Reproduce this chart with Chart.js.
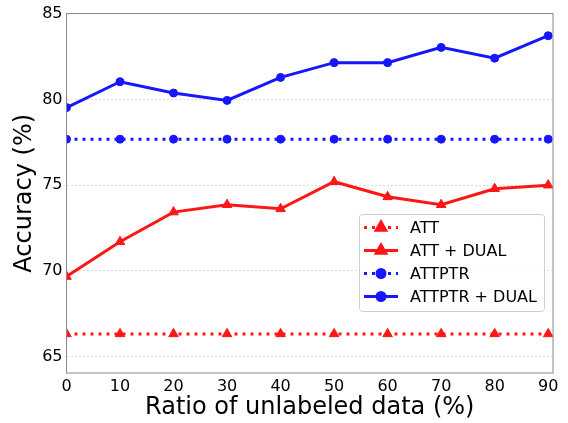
<!DOCTYPE html>
<html>
<head>
<meta charset="utf-8">
<script src="https://cdn.jsdelivr.net/npm/chart.js@4.4.1/dist/chart.umd.min.js"></script>
<style>
  html, body { margin: 0; padding: 0; background: #fff; }
  #wrap { width: 568px; height: 423px; position: relative; }
</style>
</head>
<body>
<div id="wrap"><canvas id="myChart"></canvas></div>
<script>
// valores
const ratios = [0, 10, 20, 30, 40, 50, 60, 70, 80, 90];
const att = [66.33, 66.33, 66.33, 66.33, 66.33, 66.33, 66.33, 66.33, 66.33, 66.33];
const attDual = [69.67, 71.7, 73.43, 73.86, 73.62, 75.2, 74.32, 73.86, 74.79, 75.0];
const attptr = [77.68, 77.68, 77.68, 77.68, 77.68, 77.68, 77.68, 77.68, 77.68, 77.68];
const attptrDual = [79.52, 81.03, 80.37, 79.94, 81.28, 82.14, 82.14, 83.03, 82.4, 83.71];
const xTicks = [0, 10, 20, 30, 40, 50, 60, 70, 80, 90];
const yTicks = [65, 70, 75, 80, 85];

const vermelho = "rgb(255, 22, 22)";
const azul = "rgb(22, 22, 255)";
const fonte = "'DejaVu Sans', sans-serif";

function pontos(valores) {
  return ratios.map((r, i) => ({ x: r, y: valores[i] }));
}

// caixa em volta do grafico (estilo matplotlib)
const caixa = {
  id: "caixa",
  afterDatasetsDraw(chart) {
    const a = chart.chartArea;
    const ctx = chart.ctx;
    ctx.save();
    ctx.strokeStyle = "#888";
    ctx.lineWidth = 1;
    ctx.strokeRect(a.left, a.top, a.right - a.left, a.bottom - a.top);
    ctx.restore();
  },
};

// legenda dentro do grafico
const legendaDentro = {
  id: "legendaDentro",
  afterDraw(chart) {
    const ctx = chart.ctx;
    const x0 = 359.5, y0 = 214.5, w = 185, h = 97;
    ctx.save();
    ctx.fillStyle = "rgba(255,255,255,0.85)";
    ctx.strokeStyle = "#d0d0d0";
    ctx.lineWidth = 1;
    ctx.beginPath();
    ctx.roundRect(x0, y0, w, h, 3);
    ctx.fill();
    ctx.stroke();
    chart.data.datasets.forEach((ds, i) => {
      const y = 227.5 + i * 23;
      ctx.strokeStyle = ds.borderColor;
      ctx.lineWidth = ds.borderWidth;
      ctx.setLineDash(ds.borderDash || []);
      ctx.lineCap = "butt";
      ctx.beginPath();
      ctx.moveTo(364, y);
      ctx.lineTo(398, y);
      ctx.stroke();
      ctx.setLineDash([]);
      Chart.helpers.drawPoint(ctx, {
        pointStyle: ds.pointStyle,
        radius: ds.pointRadius,
        borderWidth: 1,
        rotation: 0,
      }, 381, y);
      ctx.fillStyle = ds.pointBackgroundColor;
      ctx.strokeStyle = ds.pointBorderColor;
      ctx.lineWidth = 1;
      ctx.fill();
      ctx.stroke();
      ctx.fillStyle = "#000";
      ctx.font = "16px " + fonte;
      ctx.textBaseline = "middle";
      ctx.fillText(ds.label, 410, y + 1);
    });
    ctx.restore();
  },
};

function serie(label, valores, cor, tracejado, estilo, raio) {
  return {
    label: label,
    data: pontos(valores),
    borderColor: cor,
    backgroundColor: cor,
    pointBackgroundColor: cor,
    pointBorderColor: cor,
    pointBorderWidth: 1,
    borderWidth: 3,
    borderDash: tracejado ? [3, 5] : [],
    pointStyle: estilo,
    pointRadius: raio,
    pointHoverRadius: raio,
    tension: 0,
    fill: false,
  };
}

var ctx = document.getElementById("myChart").getContext("2d");
var chart = new Chart(ctx, {
  type: "line",
  data: {
    datasets: [
      serie("ATT", att, vermelho, true, "triangle", 5.5),
      serie("ATT + DUAL", attDual, vermelho, false, "triangle", 5.5),
      serie("ATTPTR", attptr, azul, true, "circle", 4),
      serie("ATTPTR + DUAL", attptrDual, azul, false, "circle", 4),
    ],
  },
  options: {
    responsive: true,
    maintainAspectRatio: false,
    animation: false,
    layout: { padding: { top: 12, right: 15, left: 0, bottom: 0 } },
    plugins: {
      legend: { display: false },
      tooltip: { enabled: false },
    },
    scales: {
      x: {
        type: "linear",
        min: 0,
        max: 90.9,
        afterBuildTicks(axis) {
          axis.ticks = xTicks.map((v) => ({ value: v }));
        },
        afterFit(axis) {
          axis.height = 50;
        },
        grid: { display: false, drawTicks: false },
        border: { display: false },
        ticks: {
          color: "#000",
          padding: 4,
          maxRotation: 0,
          font: { family: fonte, size: 16 },
        },
        title: {
          display: true,
          text: "Ratio of unlabeled data (%)",
          color: "#000",
          padding: { top: 0, bottom: 1 },
          font: { family: fonte, size: 24 },
        },
      },
      y: {
        type: "linear",
        min: 64.05,
        max: 85,
        afterBuildTicks(axis) {
          axis.ticks = yTicks.map((v) => ({ value: v }));
        },
        afterFit(axis) {
          axis.width = 66.5;
        },
        grid: {
          color: "#cccccc",
          lineWidth: 0.7,
          drawTicks: false,
        },
        border: { display: false, dash: [2, 2] },
        ticks: {
          color: "#000",
          padding: 4,
          font: { family: fonte, size: 16 },
        },
        title: {
          display: true,
          text: "Accuracy (%)",
          color: "#000",
          padding: { top: 10, bottom: 0 },
          font: { family: fonte, size: 24 },
        },
      },
    },
  },
  plugins: [caixa, legendaDentro],
});
</script>
</body>
</html>
